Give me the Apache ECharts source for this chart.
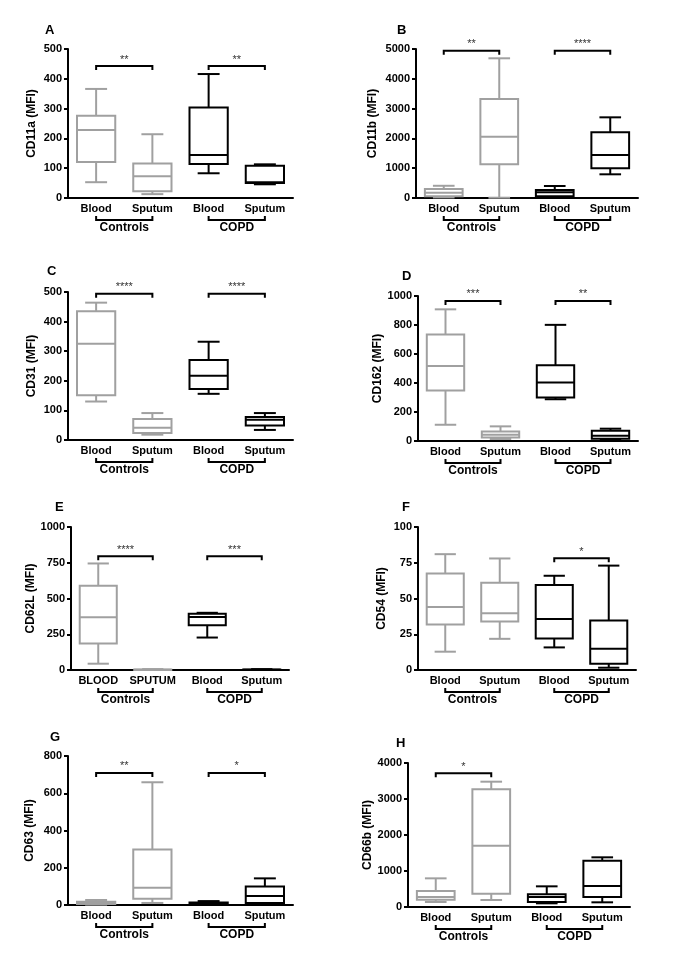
<!DOCTYPE html>
<html>
<head>
<meta charset="utf-8">
<script src="https://cdn.jsdelivr.net/npm/echarts@6/dist/echarts.min.js"></script>
<style>
html,body{margin:0;padding:0;background:#fff;}
#chart{width:685px;height:966px;}
</style>
</head>
<body>
<div id="chart"></div>
<script>
// ---------- DATA ----------
const catsStd = ['Blood', 'Sputum', 'Blood', 'Sputum'];
const catsE = ['BLOOD', 'SPUTUM', 'Blood', 'Sputum'];
const groupNames = ['Controls', 'COPD'];

// box values: [min, Q1, median, Q3, max]; Controls = categories 0,1 ; COPD = categories 2,3
const cd11aCtrl = [[53, 121, 228, 276, 366], [13, 23, 73, 116, 214]];
const cd11aCopd = [[83, 114, 144, 304, 416], [46, 50, 53, 108, 113]];
const cd11bCtrl = [[20, 60, 180, 300, 410], [10, 1130, 2058, 3322, 4688]];
const cd11bCopd = [[20, 60, 190, 268, 403], [795, 996, 1443, 2204, 2707]];
const cd31Ctrl = [[130, 151, 325, 435, 464], [18, 24, 41, 71, 91]];
const cd31Copd = [[156, 172, 217, 270, 332], [34, 49, 68, 78, 91]];
const cd162Ctrl = [[112, 348, 517, 735, 908], [14, 25, 43, 66, 101]];
const cd162Copd = [[288, 300, 403, 522, 801], [9, 16, 37, 71, 85]];
const cd62lCtrl = [[44, 186, 369, 589, 745], [0, 1, 2, 4, 6]];
const cd62lCopd = [[227, 313, 371, 393, 400], [0, 1, 2, 4, 6]];
const cd54Ctrl = [[12.8, 31.8, 44, 67.5, 81], [21.8, 33.9, 39.7, 61, 78]];
const cd54Copd = [[15.8, 22, 35.7, 59.4, 65.9], [1.6, 4.4, 14.8, 34.6, 73]];
const cd63Ctrl = [[2, 5, 11, 18, 27], [11, 34, 93, 298, 659]];
const cd63Copd = [[3, 5, 9, 14, 21], [4, 11, 48, 100, 143]];
const cd66bCtrl = [[139, 204, 278, 444, 796], [194, 370, 1704, 3269, 3481]];
const cd66bCopd = [[102, 139, 278, 352, 574], [130, 278, 583, 1287, 1380]];

// significance brackets: [fromCategory, toCategory, value]
const sigA = [[0, 1, 443], [2, 3, 443]];
const sigALabels = ['**', '**'];
const sigB = [[0, 1, 4940], [2, 3, 4940]];
const sigBLabels = ['**', '****'];
const sigC = [[0, 1, 494], [2, 3, 494]];
const sigCLabels = ['****', '****'];
const sigD = [[0, 1, 966], [2, 3, 966]];
const sigDLabels = ['***', '**'];
const sigE = [[0, 1, 796], [2, 3, 796]];
const sigELabels = ['****', '***'];
const sigF = [[2, 3, 78.2]];
const sigFLabels = ['*'];
const sigG = [[0, 1, 709], [2, 3, 709]];
const sigGLabels = ['**', '*'];
const sigH = [[0, 1, 3713]];
const sigHLabels = ['*'];

// group brackets under the axis: [fromCategory, toCategory]
const groupSpans = [[0, 1], [2, 3]];

// ---------- LAYOUT / STYLE ----------
const FONT = 'Liberation Sans, Arial, Helvetica, sans-serif';
const GRAY = '#a0a0a0';
const BLACK = '#000000';

const panels = [
  {letter: 'A', yName: 'CD11a (MFI)', cats: catsStd, max: 500, interval: 100, ctrl: cd11aCtrl, copd: cd11aCopd, sig: sigA, sigL: sigALabels,
   grid: {left: 68, top: 49, width: 225, height: 149}, lpos: [50, 32], nameGap: 30},
  {letter: 'B', yName: 'CD11b (MFI)', cats: catsStd, max: 5000, interval: 1000, ctrl: cd11bCtrl, copd: cd11bCopd, sig: sigB, sigL: sigBLabels,
   grid: {left: 416, top: 49, width: 222, height: 149}, lpos: [402, 32], nameGap: 37},
  {letter: 'C', yName: 'CD31 (MFI)', cats: catsStd, max: 500, interval: 100, ctrl: cd31Ctrl, copd: cd31Copd, sig: sigC, sigL: sigCLabels,
   grid: {left: 68, top: 292, width: 225, height: 148}, lpos: [52, 273], nameGap: 30},
  {letter: 'D', yName: 'CD162 (MFI)', cats: catsStd, max: 1000, interval: 200, ctrl: cd162Ctrl, copd: cd162Copd, sig: sigD, sigL: sigDLabels,
   grid: {left: 418, top: 296, width: 220, height: 145}, lpos: [407, 278], nameGap: 34},
  {letter: 'E', yName: 'CD62L (MFI)', cats: catsE, max: 1000, interval: 250, ctrl: cd62lCtrl, copd: cd62lCopd, sig: sigE, sigL: sigELabels,
   grid: {left: 71, top: 527, width: 218, height: 143}, lpos: [60, 509], nameGap: 34},
  {letter: 'F', yName: 'CD54 (MFI)', cats: catsStd, max: 100, interval: 25, ctrl: cd54Ctrl, copd: cd54Copd, sig: sigF, sigL: sigFLabels,
   grid: {left: 418, top: 527, width: 218, height: 143}, lpos: [407, 509], nameGap: 30},
  {letter: 'G', yName: 'CD63 (MFI)', cats: catsStd, max: 800, interval: 200, ctrl: cd63Ctrl, copd: cd63Copd, sig: sigG, sigL: sigGLabels,
   grid: {left: 68, top: 756, width: 225, height: 149}, lpos: [55, 739], nameGap: 32},
  {letter: 'H', yName: 'CD66b (MFI)', cats: catsStd, max: 4000, interval: 1000, ctrl: cd66bCtrl, copd: cd66bCopd, sig: sigH, sigL: sigHLabels,
   grid: {left: 408, top: 763, width: 222, height: 144}, lpos: [401, 745], nameGap: 30}
];

function boxRenderer(color) {
  return function (params, api) {
    const c = api.value(0);
    const x = api.coord([c, 0])[0];
    const yMin = api.coord([c, api.value(1)])[1];
    const yQ1 = api.coord([c, api.value(2)])[1];
    const yMed = api.coord([c, api.value(3)])[1];
    const yQ3 = api.coord([c, api.value(4)])[1];
    const yMax = api.coord([c, api.value(5)])[1];
    const band = api.size([1, 0])[0];
    const bw = band * 0.68, cw = band * 0.39;
    const st = {stroke: color, lineWidth: 2, fill: null};
    return {
      type: 'group',
      children: [
        {type: 'line', shape: {x1: x, y1: yQ3, x2: x, y2: yMax}, style: st},
        {type: 'line', shape: {x1: x, y1: yQ1, x2: x, y2: yMin}, style: st},
        {type: 'line', shape: {x1: x - cw / 2, y1: yMax, x2: x + cw / 2, y2: yMax}, style: st},
        {type: 'line', shape: {x1: x - cw / 2, y1: yMin, x2: x + cw / 2, y2: yMin}, style: st},
        {type: 'rect', shape: {x: x - bw / 2, y: yQ3, width: bw, height: Math.max(yQ1 - yQ3, 0.5)}, style: {stroke: color, lineWidth: 2, fill: '#fff'}},
        {type: 'line', shape: {x1: x - bw / 2, y1: yMed, x2: x + bw / 2, y2: yMed}, style: st}
      ]
    };
  };
}

function sigRenderer(labels) {
  return function (params, api) {
    const p1 = api.coord([api.value(0), api.value(2)]);
    const p2 = api.coord([api.value(1), api.value(2)]);
    const st = {stroke: BLACK, lineWidth: 2, fill: null};
    return {
      type: 'group',
      children: [
        {type: 'polyline', shape: {points: [[p1[0], p1[1] + 4], [p1[0], p1[1]], [p2[0], p2[1]], [p2[0], p2[1] + 4]]}, style: st},
        {type: 'text', x: (p1[0] + p2[0]) / 2, y: p1[1] - 1,
         style: {text: labels[params.dataIndex], fill: '#333', font: '11px ' + FONT, align: 'center', verticalAlign: 'bottom'}}
      ]
    };
  };
}

function groupRenderer(params, api) {
  const p1 = api.coord([api.value(0), 0]);
  const p2 = api.coord([api.value(1), 0]);
  const y = p1[1] + 22;
  const st = {stroke: BLACK, lineWidth: 2, fill: null};
  return {
    type: 'group',
    children: [
      {type: 'polyline', shape: {points: [[p1[0], y - 4], [p1[0], y], [p2[0], y], [p2[0], y - 4]]}, style: st},
      {type: 'text', x: (p1[0] + p2[0]) / 2, y: y + 1.5,
       style: {text: groupNames[params.dataIndex], fill: BLACK, font: 'bold 12px ' + FONT, align: 'center', verticalAlign: 'top'}}
    ]
  };
}

const option = {
  backgroundColor: '#fff',
  animation: false,
  textStyle: {fontFamily: FONT},
  grid: [], xAxis: [], yAxis: [], series: [], graphic: []
};

panels.forEach((p, i) => {
  option.grid.push(Object.assign({outerBoundsMode: 'none', containLabel: false}, p.grid));
  option.xAxis.push({
    type: 'category', gridIndex: i, data: p.cats,
    axisLine: {lineStyle: {color: BLACK, width: 2}},
    axisTick: {show: false},
    axisLabel: {color: BLACK, fontWeight: 'bold', fontSize: 11, margin: 5, fontFamily: FONT, interval: 0}
  });
  option.yAxis.push({
    type: 'value', gridIndex: i, min: 0, max: p.max, interval: p.interval,
    name: p.yName, nameLocation: 'middle', nameGap: p.nameGap,
    nameTextStyle: {color: BLACK, fontWeight: 'bold', fontSize: 12, fontFamily: FONT},
    axisLine: {show: true, lineStyle: {color: BLACK, width: 2}},
    axisTick: {show: true, length: 4, lineStyle: {color: BLACK, width: 2}},
    splitLine: {show: false},
    axisLabel: {color: BLACK, fontWeight: 'bold', fontSize: 11, margin: 6, fontFamily: FONT,
                formatter: v => String(v)}
  });
  option.series.push({
    type: 'custom', name: 'Controls', xAxisIndex: i, yAxisIndex: i,
    renderItem: boxRenderer(GRAY),
    encode: {x: 0, y: [1, 2, 3, 4, 5]},
    data: p.ctrl.map((b, k) => [k].concat(b)), z: 3
  });
  option.series.push({
    type: 'custom', name: 'COPD', xAxisIndex: i, yAxisIndex: i,
    renderItem: boxRenderer(BLACK),
    encode: {x: 0, y: [1, 2, 3, 4, 5]},
    data: p.copd.map((b, k) => [k + 2].concat(b)), z: 3
  });
  option.series.push({
    type: 'custom', name: 'sig', xAxisIndex: i, yAxisIndex: i,
    renderItem: sigRenderer(p.sigL),
    encode: {x: [0, 1], y: 2},
    data: p.sig, z: 4, clip: false
  });
  option.series.push({
    type: 'custom', name: 'groups', xAxisIndex: i, yAxisIndex: i,
    renderItem: groupRenderer,
    encode: {x: [0, 1]},
    data: groupSpans.map(g => [g[0], g[1], 0]), z: 4, clip: false
  });
  option.graphic.push({
    type: 'text', left: p.lpos[0] - 5, top: p.lpos[1] - 8,
    style: {text: p.letter, fill: BLACK, font: 'bold 13px ' + FONT}
  });
});

const chart = echarts.init(document.getElementById('chart'), null, {renderer: 'canvas'});
chart.setOption(option);
</script>
</body>
</html>
